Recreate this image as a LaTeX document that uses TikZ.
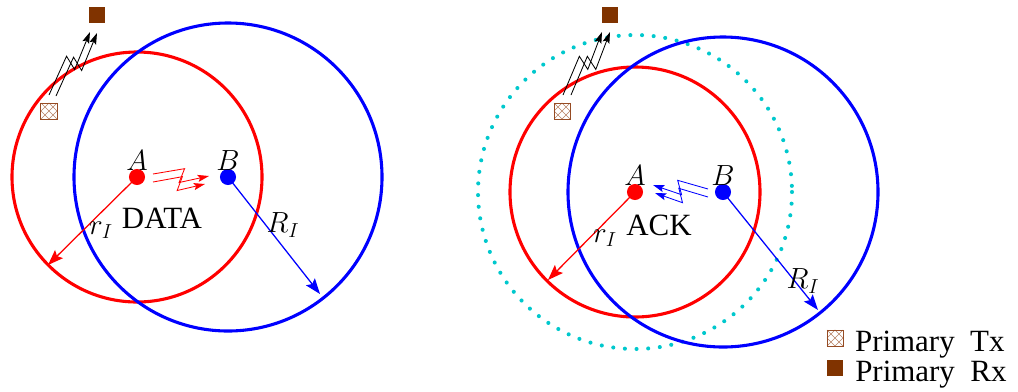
\documentclass[tikz,border=0pt]{standalone}
\usepackage{fontspec}
\setmainfont{Liberation Serif}
\usetikzlibrary{arrows.meta, positioning, calc}
\definecolor{rxbrown}{RGB}{128,51,0}
\definecolor{txbrown}{RGB}{150,75,35}
\definecolor{sensecyan}{RGB}{0,200,205}

\begin{document}
\begin{tikzpicture}[
  x=0.025cm, y=-0.025cm,
  font=\fontsize{22}{26}\selectfont,
  zone/.style={line width=2.2pt},
  sense/.style={line width=2.9pt, sensecyan, dash pattern=on 0pt off 8.3pt, line cap=round},
  dot/.style={circle, fill=#1, minimum size=11.4pt, inner sep=0pt},
  tag/.style={inner sep=0pt, above=-1.5pt of #1},
  rline/.style={-{Stealth[length=11pt, width=8pt, inset=2pt]}, line width=0.9pt, #1},
  zap/.style={-{Stealth[length=8pt, width=5pt, inset=1.5pt]}, line width=0.6pt, #1},
  zag/.style={to path={-- ($(\tikztostart)!0.56!(\tikztotarget)!4.6pt!#1:(\tikztotarget)$)
             -- ($(\tikztostart)!0.47!(\tikztotarget)!5.4pt!-#1:(\tikztotarget)$)
             -- (\tikztotarget)}},
  zag/.default=90,
  ptx/.style={rectangle, draw=txbrown, line width=0.7pt, minimum size=11.4pt, inner sep=0pt,
    path picture={
      \draw[txbrown!70, line width=0.4pt]
        (path picture bounding box.south west) -- (path picture bounding box.north east)
        (path picture bounding box.north west) -- (path picture bounding box.south east)
        (path picture bounding box.west) -- (path picture bounding box.north)
        -- (path picture bounding box.east) -- (path picture bounding box.south) -- cycle;
    }},
  prx/.style={rectangle, fill=rxbrown, minimum size=12pt, inner sep=0pt},
  legend/.style={right=8pt of #1, yshift=-5pt, inner sep=0pt},
]
\useasboundingbox (0,0) rectangle (1018,391);

% left: DATA from A to B
\node[dot=red] (A1) at (137,177) {};
\node[dot=blue] (B1) at (228,177) {};
\node[ptx] (tx1) at (49,111) {};
\node[prx] (rx1) at (97,15) {};
\draw[zone, red] (A1.center) circle[radius=125];
\draw[zone, blue] (B1.center) circle[radius=154];
\node[tag=A1] (lA1) {$A$};
\node[tag=B1] (lB1) {$B$};
\coordinate (ra1) at (48,265);
\coordinate (Ra1) at (320,294);
\draw[rline=red] (A1.center) -- (ra1);
\draw[rline=blue] (B1.center) -- (Ra1);
\node (lr1) at (101,230) {$r_I$};
\node (lR1) at (283,225) {$R_I$};
\node (data) at (162,218) {DATA};
% data burst
\coordinate (d1s) at (153,174); \coordinate (d1e) at (209,176);
\coordinate (d2s) at (153,182); \coordinate (d2e) at (205,184);
\draw[zap=red, zag] (d1s) to (d1e);
\draw[zap=red, zag] (d2s) to (d2e);
% primary link
\coordinate (p1s) at (49,95); \coordinate (p1e) at (90,32);
\coordinate (p2s) at (56,96); \coordinate (p2e) at (97,33);
\draw[zap=black, zag] (p1s) to (p1e);
\draw[zap=black, zag] (p2s) to (p2e);

% right: ACK from B to A
\node[dot=red] (A2) at (635,192) {};
\node[dot=blue] (B2) at (723,192) {};
\node[ptx] (tx2) at (562,111) {};
\node[prx] (rx2) at (610,15) {};
\draw[sense] (A2.center) circle[radius=157];
\draw[zone, red] (A2.center) circle[radius=125];
\draw[zone, blue] (B2.center) circle[radius=155];
\node[tag=A2] (lA2) {$A$};
\node[tag=B2] (lB2) {$B$};
\coordinate (ra2) at (548,280);
\coordinate (Ra2) at (818,310);
\draw[rline=red] (A2.center) -- (ra2);
\draw[rline=blue] (B2.center) -- (Ra2);
\node (lr2) at (605,238) {$r_I$};
\node (lR2) at (803,281) {$R_I$};
\node (ack) at (659,225) {ACK};
% ack burst
\coordinate (a1s) at (708,189); \coordinate (a1e) at (653,185);
\coordinate (a2s) at (708,197); \coordinate (a2e) at (655,193);
\draw[zap=blue, zag=270] (a1s) to (a1e);
\draw[zap=blue, zag=270] (a2s) to (a2e);
% primary link
\coordinate (q1s) at (563,95); \coordinate (q1e) at (602,32);
\coordinate (q2s) at (571,95); \coordinate (q2e) at (610,32);
\draw[zap=black, zag] (q1s) to (q1e);
\draw[zap=black, zag] (q2s) to (q2e);

% legend
\node[ptx] (ltx) at (835,338) {};
\node[legend=ltx] (ltxt) {Primary\enskip Tx};
\node[prx] (lrx) at (835,368) {};
\node[legend=lrx] (lrxt) {Primary\enskip Rx};
\end{tikzpicture}
\end{document}
